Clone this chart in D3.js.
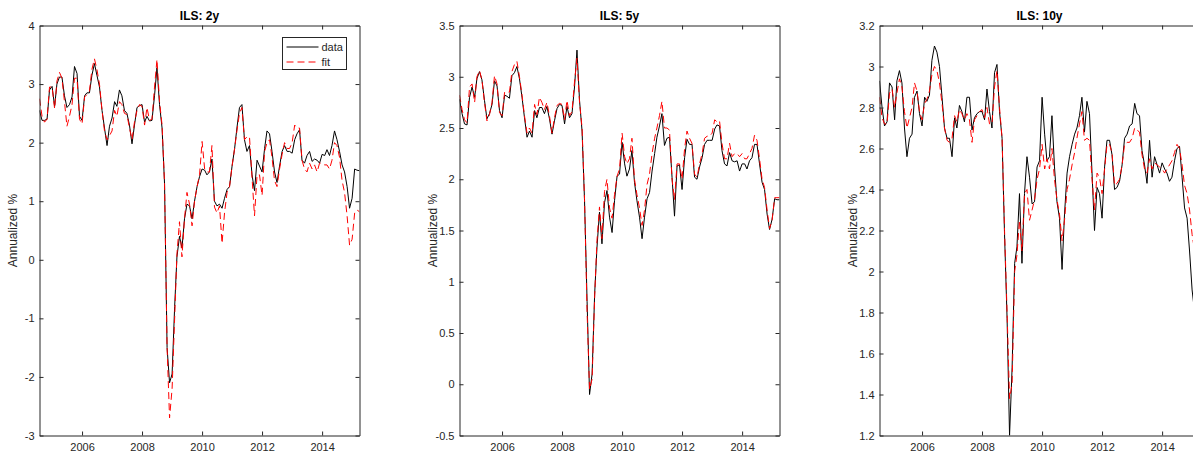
<!DOCTYPE html>
<html>
<head>
<meta charset="utf-8">
<script src="https://cdn.jsdelivr.net/npm/d3@7"></script>
<style>
  body { margin: 0; background: #fff; }
  svg { display: block; font-family: Arial, "Liberation Sans", Helvetica, sans-serif; }
</style>
</head>
<body>
<div id="chart"></div>
<script>
// Monthly observations, Aug 2004 .. Apr 2015
const firstMonth = new Date(2004, 7, 1);
const lastMonth = new Date(2015, 3, 1);
const months = d3.timeMonth.range(firstMonth, d3.timeMonth.offset(lastMonth, 1));

const xTickYears = [2006, 2008, 2010, 2012, 2014];
const yTicks2y = [-3, -2, -1, 0, 1, 2, 3, 4];
const yTicks5y = [-0.5, 0, 0.5, 1, 1.5, 2, 2.5, 3, 3.5];
const yTicks10y = [1.2, 1.4, 1.6, 1.8, 2, 2.2, 2.4, 2.6, 2.8, 3, 3.2];

const data2y = [2.55,2.38,2.38,2.40,2.90,2.96,2.62,3.00,3.12,3.12,
  2.80,2.60,2.65,2.78,3.30,3.18,2.45,2.38,2.80,2.85,
  2.85,3.15,3.35,3.15,2.95,2.55,2.25,1.95,2.28,2.42,
  2.70,2.62,2.90,2.80,2.55,2.50,2.30,1.98,2.30,2.60,
  2.63,2.65,2.35,2.45,2.37,2.38,2.80,3.28,2.65,2.25,
  1.30,-1.50,-2.10,-1.95,-0.80,0.05,0.40,0.20,0.70,0.95,
  0.92,0.70,1.00,1.25,1.42,1.55,1.53,1.45,1.50,1.72,
  1.00,0.92,0.95,0.88,1.05,1.20,1.25,1.60,1.90,2.25,
  2.60,2.65,2.05,1.85,1.95,1.45,1.18,1.70,1.60,1.50,
  1.90,2.20,2.15,1.85,1.50,1.32,1.60,1.85,1.95,1.85,
  1.85,1.82,2.05,2.15,2.22,1.70,1.65,1.78,1.85,1.68,
  1.72,1.70,1.65,1.80,1.78,1.88,1.78,1.95,2.20,2.05,
  1.85,1.62,1.50,1.25,0.88,1.05,1.55,1.53,1.52];

const fit2y = [2.75,2.45,2.35,2.40,2.95,2.95,2.58,3.05,3.20,3.10,
  2.70,2.28,2.45,2.65,3.10,3.10,2.40,2.32,2.78,2.82,
  2.88,3.25,3.43,3.25,3.00,2.55,2.20,2.05,2.12,2.20,
  2.55,2.45,2.70,2.65,2.50,2.48,2.25,2.05,2.35,2.55,
  2.65,2.62,2.30,2.60,2.38,2.40,2.95,3.42,2.70,2.30,
  1.30,-1.50,-2.70,-2.20,-1.00,0.10,0.65,0.05,0.70,1.15,
  0.95,0.58,1.00,1.25,1.45,2.02,1.55,1.50,1.50,1.95,
  0.90,0.80,0.92,0.28,0.80,1.15,1.25,1.60,1.90,2.20,
  2.50,2.60,2.05,2.10,2.10,1.40,0.75,1.45,1.45,1.10,
  1.85,2.00,2.05,1.75,1.35,1.25,1.55,1.80,2.00,1.90,
  1.90,2.00,2.30,2.25,2.25,1.70,1.55,1.50,1.65,1.55,
  1.62,1.50,1.65,1.65,1.62,1.62,1.55,1.70,2.00,1.95,
  1.75,1.35,1.15,0.75,0.25,0.35,0.80,0.85,0.82];

const data5y = [2.78,2.64,2.54,2.53,2.80,2.90,2.80,2.98,3.05,2.97,
  2.77,2.59,2.64,2.73,2.96,2.91,2.67,2.60,2.82,2.81,
  2.79,3.01,3.04,3.10,2.98,2.80,2.60,2.41,2.47,2.41,
  2.67,2.60,2.70,2.70,2.64,2.71,2.59,2.44,2.57,2.69,
  2.73,2.72,2.54,2.71,2.60,2.64,2.90,3.26,2.77,2.47,
  1.79,0.81,-0.10,0.10,0.88,1.33,1.68,1.37,1.77,1.89,
  1.63,1.48,1.79,2.03,2.05,2.36,2.15,2.03,2.10,2.28,
  1.97,1.79,1.63,1.42,1.63,1.81,1.87,2.08,2.25,2.41,
  2.52,2.64,2.33,2.40,2.41,2.02,1.64,2.13,2.14,1.90,
  2.21,2.39,2.34,2.34,2.02,2.00,2.12,2.21,2.34,2.38,
  2.38,2.38,2.49,2.53,2.52,2.28,2.15,2.13,2.26,2.18,
  2.17,2.18,2.08,2.15,2.15,2.10,2.18,2.21,2.34,2.34,
  2.15,1.97,1.90,1.66,1.51,1.61,1.81,1.80,1.80];

const fit5y = [2.82,2.68,2.58,2.55,2.90,2.93,2.75,3.00,3.06,2.97,
  2.75,2.57,2.63,2.75,3.01,2.93,2.65,2.62,2.85,2.85,
  2.85,3.05,3.12,3.15,3.00,2.82,2.62,2.45,2.50,2.45,
  2.73,2.63,2.80,2.75,2.68,2.75,2.62,2.45,2.60,2.72,
  2.74,2.73,2.58,2.77,2.62,2.66,2.95,3.18,2.75,2.50,
  1.80,0.70,-0.05,0.05,0.85,1.40,1.73,1.42,1.88,2.00,
  1.72,1.62,1.85,2.03,2.10,2.45,2.22,2.15,2.20,2.40,
  2.00,1.85,1.72,1.55,1.70,1.95,2.05,2.25,2.40,2.50,
  2.62,2.76,2.50,2.50,2.48,2.00,1.80,2.15,2.15,2.00,
  2.30,2.47,2.40,2.35,2.05,2.02,2.15,2.25,2.40,2.42,
  2.42,2.45,2.58,2.56,2.57,2.35,2.20,2.20,2.35,2.22,
  2.25,2.25,2.22,2.25,2.20,2.20,2.25,2.30,2.43,2.38,
  2.20,2.00,1.92,1.70,1.52,1.60,1.82,1.82,1.82];

const data10y = [2.93,2.80,2.71,2.73,2.92,2.90,2.74,2.93,2.98,2.92,
  2.70,2.56,2.65,2.67,2.85,2.88,2.77,2.71,2.85,2.83,
  2.86,3.03,3.10,3.07,3.00,2.85,2.70,2.65,2.65,2.56,
  2.75,2.70,2.81,2.78,2.73,2.85,2.85,2.69,2.75,2.77,
  2.78,2.78,2.74,2.89,2.78,2.70,2.97,3.01,2.78,2.65,
  2.18,1.77,1.20,1.53,2.04,2.12,2.38,2.04,2.38,2.56,
  2.46,2.33,2.34,2.51,2.54,2.85,2.67,2.54,2.56,2.76,
  2.51,2.34,2.26,2.01,2.28,2.48,2.56,2.62,2.67,2.70,
  2.76,2.85,2.68,2.83,2.77,2.48,2.20,2.41,2.38,2.26,
  2.51,2.64,2.64,2.57,2.40,2.41,2.44,2.52,2.65,2.67,
  2.71,2.72,2.82,2.77,2.76,2.59,2.52,2.43,2.64,2.46,
  2.56,2.52,2.48,2.53,2.50,2.48,2.44,2.46,2.54,2.60,
  2.61,2.46,2.31,2.26,2.10,1.91,1.80,1.75,1.75];

const fit10y = [2.85,2.75,2.72,2.72,2.87,2.89,2.80,2.87,2.94,2.90,
  2.78,2.70,2.75,2.80,2.92,2.88,2.78,2.74,2.82,2.84,
  2.88,2.96,3.00,2.98,2.92,2.82,2.70,2.64,2.63,2.65,
  2.76,2.73,2.79,2.77,2.74,2.77,2.74,2.63,2.74,2.76,
  2.78,2.79,2.75,2.80,2.72,2.72,2.90,2.98,2.80,2.65,
  2.20,1.80,1.38,1.45,2.00,2.08,2.25,2.10,2.38,2.40,
  2.25,2.30,2.35,2.45,2.50,2.62,2.50,2.55,2.50,2.60,
  2.45,2.35,2.28,2.15,2.25,2.40,2.45,2.52,2.58,2.65,
  2.72,2.78,2.64,2.65,2.64,2.45,2.30,2.48,2.46,2.38,
  2.50,2.62,2.62,2.58,2.42,2.43,2.45,2.52,2.62,2.63,
  2.63,2.65,2.70,2.69,2.68,2.57,2.50,2.48,2.55,2.50,
  2.53,2.52,2.51,2.50,2.48,2.50,2.52,2.54,2.58,2.62,
  2.60,2.52,2.42,2.38,2.30,2.18,2.10,2.05,2.05];

const panels = [
  { title: "ILS: 2y", data: data2y, fit: fit2y, ticks: yTicks2y, legend: true },
  { title: "ILS: 5y", data: data5y, fit: fit5y, ticks: yTicks5y, legend: false },
  { title: "ILS: 10y", data: data10y, fit: fit10y, ticks: yTicks10y, legend: false }
];

const svg_width = 1193;
const svg_height = 458;
const panelLefts = [40, 460, 880];
const marginTop = 25;
const w = 320;
const h = 410;
const axisColor = "#262626";

const svg = d3.select("#chart")
  .append("svg")
  .attr("width", svg_width)
  .attr("height", svg_height);

panels.forEach(function(p, k) {
  const x = d3.scaleTime().domain([firstMonth, lastMonth]).range([0, w]);
  const y = d3.scaleLinear()
    .domain([p.ticks[0], p.ticks[p.ticks.length - 1]])
    .range([h, 0]);

  const g = svg.append("g")
    .attr("transform", "translate(" + (panelLefts[k] - 0.5) + "," + (marginTop + 0.5) + ")");

  g.append("clipPath").attr("id", "clip" + k)
    .append("rect").attr("width", w).attr("height", h);

  // Series
  const line = d3.line()
    .x((d, i) => x(months[i]))
    .y(d => y(d));

  const plot = g.append("g").attr("clip-path", "url(#clip" + k + ")");
  plot.append("path")
    .datum(p.data)
    .attr("fill", "none")
    .attr("stroke", "#000")
    .attr("stroke-width", 1)
    .attr("d", line);
  plot.append("path")
    .datum(p.fit)
    .attr("fill", "none")
    .attr("stroke", "#ff0000")
    .attr("stroke-width", 1)
    .attr("stroke-dasharray", "7,4")
    .attr("d", line);

  // Axes, ticks pointing inward on all four sides
  const tickDates = xTickYears.map(yr => new Date(yr, 0, 1));
  const fmtY = d => String(+d.toFixed(2));

  const axes = [
    g.append("g").attr("transform", "translate(0," + h + ")")
      .call(d3.axisBottom(x).tickValues(tickDates).tickFormat(d3.timeFormat("%Y"))
        .tickSizeInner(-4).tickSizeOuter(0).tickPadding(8)),
    g.append("g")
      .call(d3.axisTop(x).tickValues(tickDates).tickFormat("")
        .tickSizeInner(-4).tickSizeOuter(0)),
    g.append("g")
      .call(d3.axisLeft(y).tickValues(p.ticks).tickFormat(fmtY)
        .tickSizeInner(-4).tickSizeOuter(0).tickPadding(5)),
    g.append("g").attr("transform", "translate(" + w + ",0)")
      .call(d3.axisRight(y).tickValues(p.ticks).tickFormat("")
        .tickSizeInner(-4).tickSizeOuter(0))
  ];
  axes.forEach(function(a) {
    a.selectAll(".domain").attr("stroke", axisColor);
    a.selectAll(".tick line").attr("stroke", axisColor);
    a.selectAll("text")
      .attr("fill", axisColor)
      .style("font-size", "11px")
      .style("font-family", "Arial, 'Liberation Sans', sans-serif");
  });

  // Title
  g.append("text")
    .attr("x", w / 2)
    .attr("y", -5.5)
    .attr("text-anchor", "middle")
    .style("font-size", "12px")
    .style("font-weight", "bold")
    .attr("fill", "#000")
    .text(p.title);

  // Y label
  g.append("text")
    .attr("transform", "translate(" + (-27) + "," + (h / 2) + ") rotate(-90)")
    .attr("text-anchor", "middle")
    .attr("dominant-baseline", "central")
    .style("font-size", "12px")
    .attr("fill", axisColor)
    .text("Annualized %");

  if (p.legend) {
    const lg = g.append("g").attr("transform", "translate(243,12)");
    lg.append("rect")
      .attr("width", 64)
      .attr("height", 32)
      .attr("fill", "#fff")
      .attr("stroke", axisColor);
    const items = [
      { label: "data", color: "#000", dash: null },
      { label: "fit", color: "#ff0000", dash: "7,4" }
    ];
    items.forEach(function(it, j) {
      const yy = 9.5 + j * 15;
      lg.append("line")
        .attr("x1", 4).attr("x2", 36)
        .attr("y1", yy).attr("y2", yy)
        .attr("stroke", it.color)
        .attr("stroke-dasharray", it.dash);
      lg.append("text")
        .attr("x", 39)
        .attr("y", yy)
        .attr("dominant-baseline", "central")
        .style("font-size", "11px")
        .attr("fill", axisColor)
        .text(it.label);
    });
  }
});
</script>
</body>
</html>
